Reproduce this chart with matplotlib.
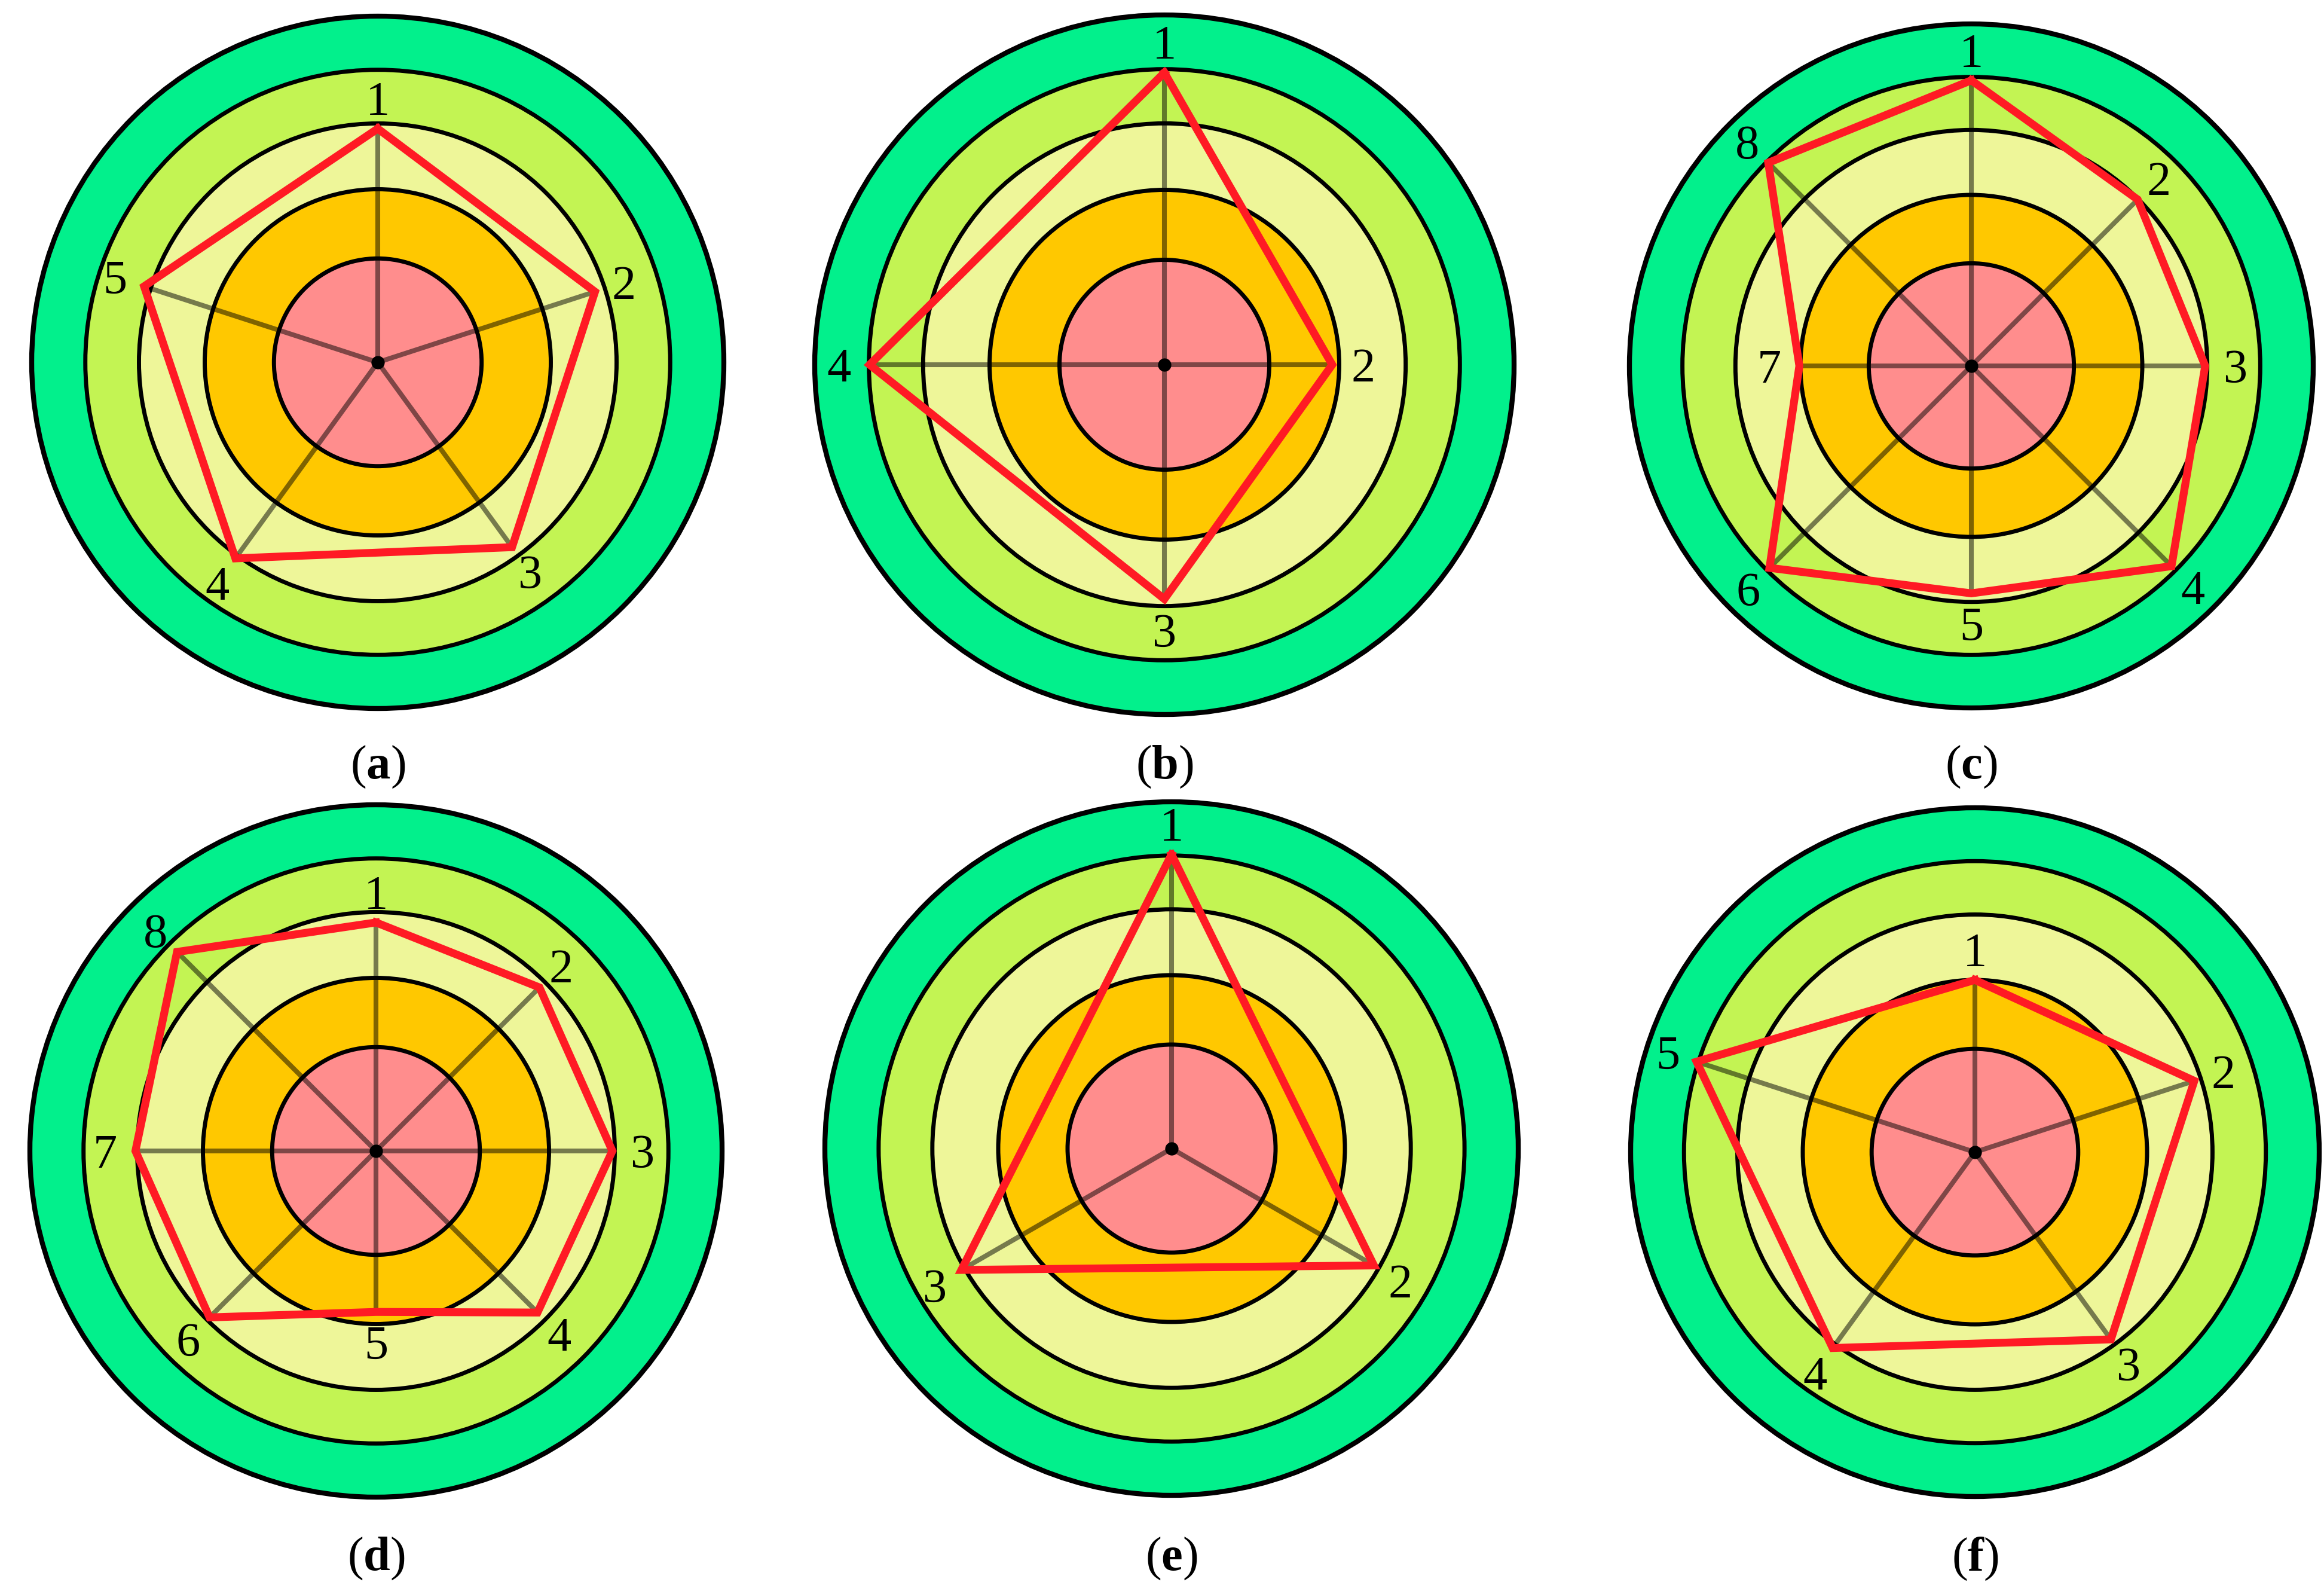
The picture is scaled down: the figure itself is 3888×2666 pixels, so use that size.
import numpy as np
import matplotlib
matplotlib.use("Agg")
import matplotlib.pyplot as plt
from matplotlib.patches import Circle

plt.rcParams['mathtext.fontset'] = 'custom'
plt.rcParams['mathtext.rm'] = 'Liberation Serif'
plt.rcParams['mathtext.bf'] = 'Liberation Serif:bold'

# ---- data (radius as fraction of the outer circle) ----
ring_bounds = [1.0, 0.845, 0.69, 0.50, 0.30]
ring_colors = ["#02F08C", "#C3F453", "#EEF699", "#FFC800", "#FF8D8D"]

panel_letters = ["a", "b", "c", "d", "e", "f"]
values_a = [0.675, 0.66, 0.66, 0.70, 0.71]
values_b = [0.835, 0.48, 0.67, 0.843]
values_c = [0.835, 0.688, 0.684, 0.828, 0.665, 0.835, 0.503, 0.84]
values_d = [0.66, 0.668, 0.683, 0.66, 0.465, 0.68, 0.695, 0.813]
values_e = [0.848, 0.674, 0.70]
values_f = [0.50, 0.67, 0.672, 0.703, 0.85]
all_values = [values_a, values_b, values_c, values_d, values_e, values_f]

# ---- layout (pixels) ----
W, H = 3888, 2666
centers = [(632, 606), (1948, 610), (3298, 612), (629, 1925), (1960, 1921), (3304, 1927)]
radii = [579, 585, 572, 579, 580, 576]
caption_y = [1283, 1283, 1283, 2607, 2607, 2607]

fig = plt.figure(figsize=(W / 100, H / 100), dpi=100)
fig.patch.set_facecolor("white")

L = 1.12
for k, vals in enumerate(all_values):
    cx, cy = centers[k]
    R = radii[k]
    half = L * R
    ax = fig.add_axes([(cx - half) / W, 1 - (cy + half) / H, 2 * half / W, 2 * half / H])
    ax.set_xlim(-L, L)
    ax.set_ylim(-L, L)
    ax.set_aspect("equal")
    ax.axis("off")

    for rb, col in zip(ring_bounds, ring_colors):
        lw = 6.0 if rb == 1.0 else 5.0
        ax.add_patch(Circle((0, 0), rb, facecolor=col, edgecolor="black", lw=lw, zorder=1))

    n = len(vals)
    th = 2 * np.pi * np.arange(n) / n
    v = np.array(vals)
    xs = v * np.sin(th)
    ys = v * np.cos(th)
    for x, y in zip(xs, ys):
        ax.plot([0, x], [0, y], color="black", alpha=0.5, lw=5.8, solid_capstyle="butt", zorder=2)
    ax.plot(np.append(xs, xs[0]), np.append(ys, ys[0]), color="#FF1A24", lw=9.5,
            solid_joinstyle="miter", zorder=3)
    ax.plot([0], [0], "o", color="black", ms=15, zorder=4)

    off = 0.088
    for i in range(n):
        r = v[i] + off
        ax.text(r * np.sin(th[i]), r * np.cos(th[i]), str(i + 1), ha="center", va="center_baseline",
                fontsize=58, family="Liberation Serif", zorder=5)

    fig.text(cx / W, 1 - caption_y[k] / H, "(" + r"$\mathbf{" + panel_letters[k] + "}$" + ")",
             ha="center", va="center", fontsize=58, family="Liberation Serif")

fig.savefig("out.png", dpi=100, facecolor="white")
